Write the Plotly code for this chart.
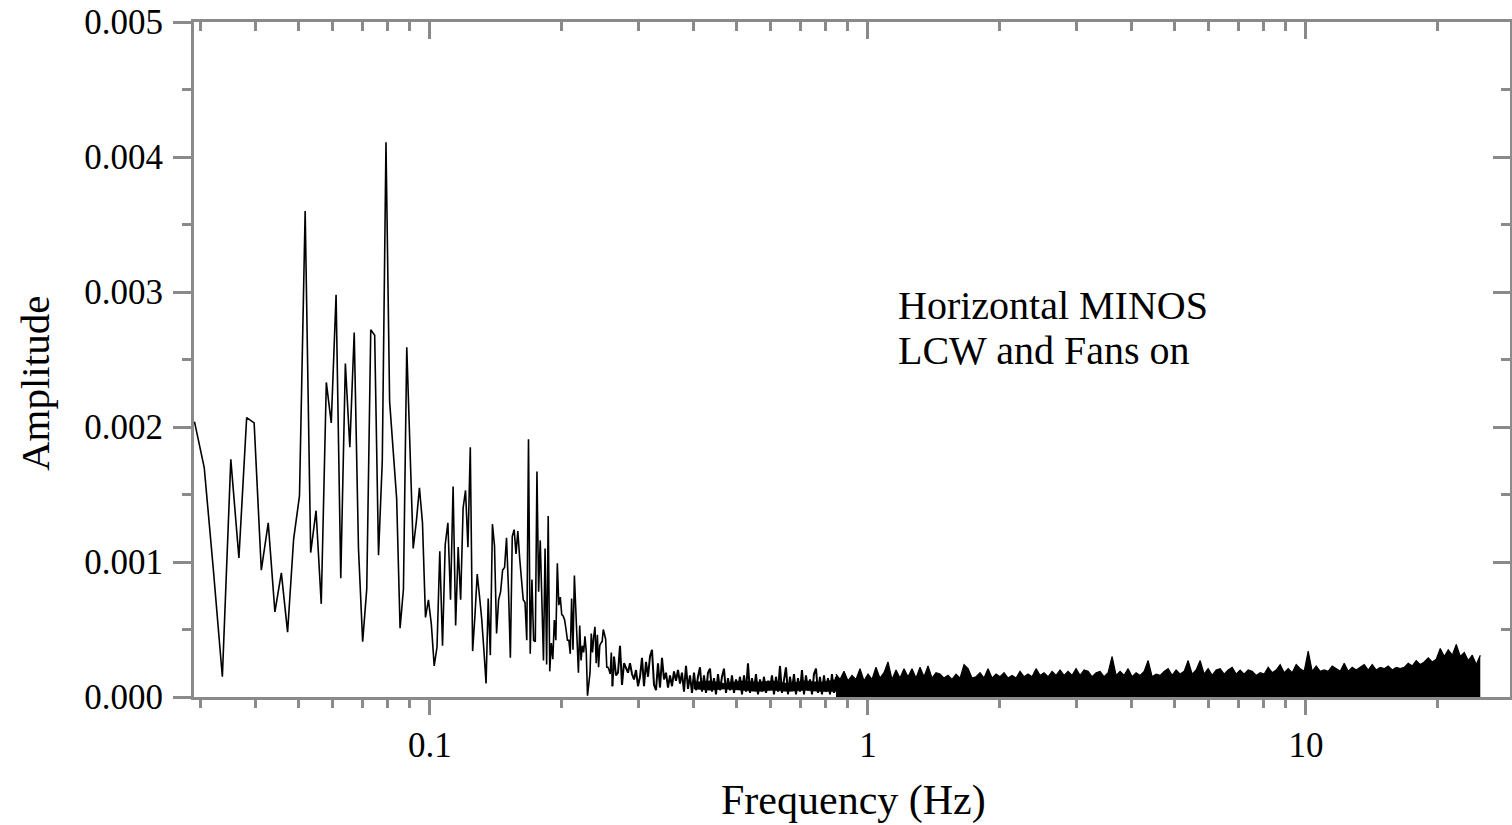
import numpy as np
import plotly.graph_objects as go

# ---------------- data ----------------
DF = 50.0 / 32768.0          # FFT bin width (Hz)
FIRST_BIN = 19               # first plotted bin

# amplitude of individual FFT bins 19 ... 171 (0.029 - 0.261 Hz)
low_amp = [
    0.00204, 0.00170, 0.00093, 0.00015, 0.00176, 0.00103, 0.00207, 0.00203, 0.00094, 0.00129,
    0.00063, 0.00092, 0.00048, 0.00117, 0.00149, 0.00360, 0.00107, 0.00138, 0.00069, 0.00233,
    0.00203, 0.00298, 0.00088, 0.00247, 0.00185, 0.00270, 0.00110, 0.00041, 0.00080, 0.00272,
    0.00268, 0.00105, 0.00175, 0.00411, 0.00219, 0.00183, 0.00147, 0.00051, 0.00080, 0.00259,
    0.00184, 0.00110, 0.00130, 0.00155, 0.00129, 0.00059, 0.00072, 0.00054, 0.00023, 0.00037,
    0.00108, 0.00038, 0.00113, 0.00129, 0.00072, 0.00156, 0.00053, 0.00111, 0.00072, 0.00140,
    0.00153, 0.00111, 0.00185, 0.00034, 0.00060, 0.00091, 0.00075, 0.00058, 0.00035, 0.00010,
    0.00073, 0.00031, 0.00128, 0.00112, 0.00047, 0.00072, 0.00078, 0.00094, 0.00096, 0.00118,
    0.00080, 0.00029, 0.00119, 0.00124, 0.00106, 0.00123, 0.00103, 0.00087, 0.00072, 0.00070,
    0.00042, 0.00191, 0.00032, 0.00087, 0.00042, 0.00041, 0.00167, 0.00078, 0.00116, 0.00072,
    0.00027, 0.00110, 0.00024, 0.00134, 0.00019, 0.00040, 0.00028, 0.00057, 0.00042, 0.00099,
    0.00068, 0.00074, 0.00061, 0.00060, 0.00057, 0.00050, 0.00042, 0.00042, 0.00032, 0.00073,
    0.00035, 0.00090, 0.00067, 0.00040, 0.00018, 0.00053, 0.00027, 0.00038, 0.00033, 0.00045,
    0.00034, 0.00001, 0.00012, 0.00018, 0.00047, 0.00033, 0.00045, 0.00052, 0.00025, 0.00046,
    0.00022, 0.00038, 0.00040, 0.00041, 0.00050, 0.00046, 0.00043, 0.00022, 0.00022, 0.00020,
    0.00017, 0.00033, 0.00008,
]

# readings of the wiggly trace between 0.263 Hz and 0.845 Hz (log-evenly spaced readings)
MID_F0, MID_F1 = 0.2631, 0.8451
mid_amp = [
    0.00030, 0.00016, 0.00018, 0.00038, 0.00009, 0.00025, 0.00021, 0.00018, 0.00025, 0.00017,
    0.00013, 0.00020, 0.00008, 0.00015, 0.00029, 0.00008, 0.00026, 0.00015, 0.00030, 0.00035,
    0.00009, 0.00005, 0.00025, 0.00007, 0.00029, 0.00013, 0.00018, 0.00007, 0.00016, 0.00008,
    0.00019, 0.00012, 0.00020, 0.00010, 0.00018, 0.00004, 0.00023, 0.00006, 0.00016, 0.00003,
    0.00018, 0.00005, 0.00015, 0.00022, 0.00004, 0.00016, 0.00003, 0.00018, 0.00021, 0.00004,
    0.00014, 0.00002, 0.00017, 0.00005, 0.00015, 0.00021, 0.00003, 0.00014, 0.00005, 0.00016,
    0.00003, 0.00013, 0.00006, 0.00015, 0.00002, 0.00016, 0.00004, 0.00025, 0.00003, 0.00014,
    0.00005, 0.00017, 0.00002, 0.00013, 0.00004, 0.00015, 0.00003, 0.00012, 0.00006, 0.00016,
    0.00002, 0.00015, 0.00004, 0.00023, 0.00003, 0.00014, 0.00022, 0.00002, 0.00015, 0.00005,
    0.00017, 0.00002, 0.00014, 0.00004, 0.00020, 0.00002, 0.00016, 0.00005, 0.00013, 0.00002,
    0.00017, 0.00021, 0.00003, 0.00015, 0.00002, 0.00016, 0.00004, 0.00014, 0.00002, 0.00017,
    0.00003, 0.00015,
]

# solid core of the wiggly trace (0.40 - 0.845 Hz), where the line is blurred to black
CORE_F0, CORE_F1 = 0.40, 0.8451
core_top = [0.00011, 0.00012, 0.00010, 0.00012, 0.00011, 0.00012, 0.00010, 0.00012, 0.00011, 0.00013]
core_bottom = [0.00006, 0.00005, 0.00006, 0.00005, 0.00004, 0.00005, 0.00004, 0.00005, 0.00004, 0.00004]

# upper edge of the dense (solid) noise band from 0.845 Hz to 25 Hz (log-evenly spaced readings)
BAND_F0, BAND_F1 = 0.8451, 25.0
band_top = [
    0.00017, 0.00013, 0.00019, 0.00012, 0.00016, 0.00013, 0.00021, 0.00012, 0.00017, 0.00013,
    0.00022, 0.00014, 0.00018, 0.00026, 0.00013, 0.00020, 0.00014, 0.00021, 0.00015, 0.00021,
    0.00014, 0.00022, 0.00015, 0.00023, 0.00014, 0.00018, 0.00017, 0.00014, 0.00016, 0.00013,
    0.00017, 0.00014, 0.00024, 0.00021, 0.00014, 0.00015, 0.00018, 0.00014, 0.00021, 0.00014,
    0.00017, 0.00015, 0.00018, 0.00014, 0.00016, 0.00014, 0.00019, 0.00015, 0.00017, 0.00015,
    0.00021, 0.00016, 0.00018, 0.00015, 0.00019, 0.00016, 0.00020, 0.00016, 0.00019, 0.00016,
    0.00021, 0.00016, 0.00020, 0.00019, 0.00015, 0.00018, 0.00019, 0.00015, 0.00018, 0.00030,
    0.00016, 0.00019, 0.00016, 0.00021, 0.00015, 0.00018, 0.00016, 0.00019, 0.00027, 0.00015,
    0.00017, 0.00016, 0.00019, 0.00021, 0.00016, 0.00020, 0.00017, 0.00019, 0.00027, 0.00017,
    0.00020, 0.00027, 0.00017, 0.00021, 0.00016, 0.00020, 0.00021, 0.00017, 0.00020, 0.00022,
    0.00017, 0.00020, 0.00017, 0.00020, 0.00019, 0.00016, 0.00018, 0.00017, 0.00022, 0.00018,
    0.00020, 0.00024, 0.00018, 0.00021, 0.00018, 0.00024, 0.00021, 0.00019, 0.00034, 0.00019,
    0.00023, 0.00019, 0.00020, 0.00019, 0.00023, 0.00021, 0.00019, 0.00025, 0.00019, 0.00022,
    0.00020, 0.00022, 0.00024, 0.00020, 0.00024, 0.00020, 0.00022, 0.00021, 0.00023, 0.00020,
    0.00022, 0.00021, 0.00022, 0.00025, 0.00023, 0.00027, 0.00024, 0.00026, 0.00029, 0.00026,
    0.00028, 0.00036, 0.00030, 0.00035, 0.00031, 0.00039, 0.00030, 0.00033, 0.00027, 0.00031,
    0.00024, 0.00031,
]

y_tick_vals = [0.0, 0.001, 0.002, 0.003, 0.004, 0.005]
y_tick_text = ["0.000", "0.001", "0.002", "0.003", "0.004", "0.005"]
x_tick_vals = [0.1, 1, 10]
x_tick_text = ["0.1", "1", "10"]
x_minor_vals = [0.03, 0.04, 0.05, 0.06, 0.07, 0.08, 0.09,
                0.2, 0.3, 0.4, 0.5, 0.6, 0.7, 0.8, 0.9,
                2, 3, 4, 5, 6, 7, 8, 9, 20]
annotation_lines = ["Horizontal MINOS", "LCW and Fans on"]
x_title = "Frequency (Hz)"
y_title = "Amplitude"

# ---------------- build ----------------
low_freq = (FIRST_BIN + np.arange(len(low_amp))) * DF
mid_freq = np.geomspace(MID_F0, MID_F1, len(mid_amp))
core_freq = np.geomspace(CORE_F0, CORE_F1, len(core_top))
band_freq = np.geomspace(BAND_F0, BAND_F1, len(band_top))

# the wiggly part starts from the last individually read bin so the trace is continuous
mid_x = np.concatenate([low_freq[-1:], mid_freq])
mid_y = np.concatenate([low_amp[-1:], mid_amp])

SERIF = "Liberation Serif, Times New Roman, serif"
AX = "#8a8a8a"

fig = go.Figure()
fig.add_trace(go.Scatter(x=band_freq, y=band_top, mode="lines",
                         line=dict(color="black", width=1.2),
                         fill="tozeroy", fillcolor="black",
                         showlegend=False, hoverinfo="skip"))
fig.add_trace(go.Scatter(x=core_freq, y=core_bottom, mode="lines",
                         line=dict(color="black", width=0.5),
                         showlegend=False, hoverinfo="skip"))
fig.add_trace(go.Scatter(x=core_freq, y=core_top, mode="lines",
                         line=dict(color="black", width=0.5),
                         fill="tonexty", fillcolor="black",
                         showlegend=False, hoverinfo="skip"))
fig.add_trace(go.Scatter(x=mid_x, y=mid_y, mode="lines",
                         line=dict(color="black", width=2.0),
                         showlegend=False))
fig.add_trace(go.Scatter(x=low_freq, y=low_amp, mode="lines",
                         line=dict(color="black", width=1.6),
                         showlegend=False))
# invisible trace so the mirrored (top / right) axes are drawn
fig.add_trace(go.Scatter(x=band_freq[:2], y=band_top[:2], xaxis="x2", yaxis="y2",
                         mode="lines", opacity=0, showlegend=False, hoverinfo="skip"))

XR = [-1.5388, 1.4658]
YR = [0, 0.005]

fig.update_layout(
    width=1512, height=825,
    margin=dict(l=194, r=2, t=22, b=128),
    paper_bgcolor="white", plot_bgcolor="white",
    font=dict(family=SERIF, color="black"),
    xaxis=dict(type="log", range=XR, showgrid=False, zeroline=False,
               showline=True, linecolor=AX, linewidth=3,
               ticks="outside", ticklen=15, tickwidth=3, tickcolor=AX,
               tickvals=x_tick_vals, ticktext=x_tick_text,
               tickfont=dict(family=SERIF, size=35, color="black"),
               minor=dict(tickvals=x_minor_vals, ticks="outside", ticklen=8,
                          tickwidth=3, tickcolor=AX, showgrid=False)),
    xaxis2=dict(type="log", range=XR, overlaying="x", side="top", anchor="y2",
                showgrid=False, zeroline=False,
                showline=True, linecolor=AX, linewidth=3,
                ticks="inside", ticklen=17, tickwidth=3, tickcolor=AX,
                tickvals=x_tick_vals, showticklabels=False,
                minor=dict(tickvals=x_minor_vals, ticks="inside", ticklen=9,
                           tickwidth=3, tickcolor=AX, showgrid=False)),
    yaxis=dict(range=YR, showgrid=False, zeroline=False,
               showline=True, linecolor=AX, linewidth=3,
               ticks="outside", ticklen=18, tickwidth=3, tickcolor=AX,
               tickvals=y_tick_vals, ticktext=y_tick_text, ticklabelstandoff=3,
               tickfont=dict(family=SERIF, size=35, color="black"),
               minor=dict(dtick=0.0005, ticks="outside", ticklen=9,
                          tickwidth=3, tickcolor=AX, showgrid=False)),
    yaxis2=dict(range=YR, overlaying="y", side="right", anchor="x2",
                showgrid=False, zeroline=False,
                showline=True, linecolor=AX, linewidth=3,
                ticks="inside", ticklen=17, tickwidth=3, tickcolor=AX,
                tickvals=y_tick_vals, showticklabels=False,
                minor=dict(dtick=0.0005, ticks="inside", ticklen=9,
                           tickwidth=3, tickcolor=AX, showgrid=False)),
    showlegend=False,
)

fig.add_annotation(text=x_title, xref="paper", yref="paper", x=0.5008, y=-0.154,
                   xanchor="center", yanchor="middle", showarrow=False,
                   font=dict(family=SERIF, size=42, color="black"))
fig.add_annotation(text=y_title, xref="paper", yref="paper", x=-0.1208, y=0.4637,
                   xanchor="center", yanchor="middle", textangle=-90, showarrow=False,
                   font=dict(family=SERIF, size=41, color="black"))
fig.add_annotation(text=annotation_lines[0], xref="paper", yref="paper", x=0.5334, y=0.5807,
                   xanchor="left", yanchor="middle", showarrow=False,
                   font=dict(family=SERIF, size=40, color="black"))
fig.add_annotation(text=annotation_lines[1], xref="paper", yref="paper", x=0.5334, y=0.5126,
                   xanchor="left", yanchor="middle", showarrow=False,
                   font=dict(family=SERIF, size=40, color="black"))

fig.write_html("out.html")
